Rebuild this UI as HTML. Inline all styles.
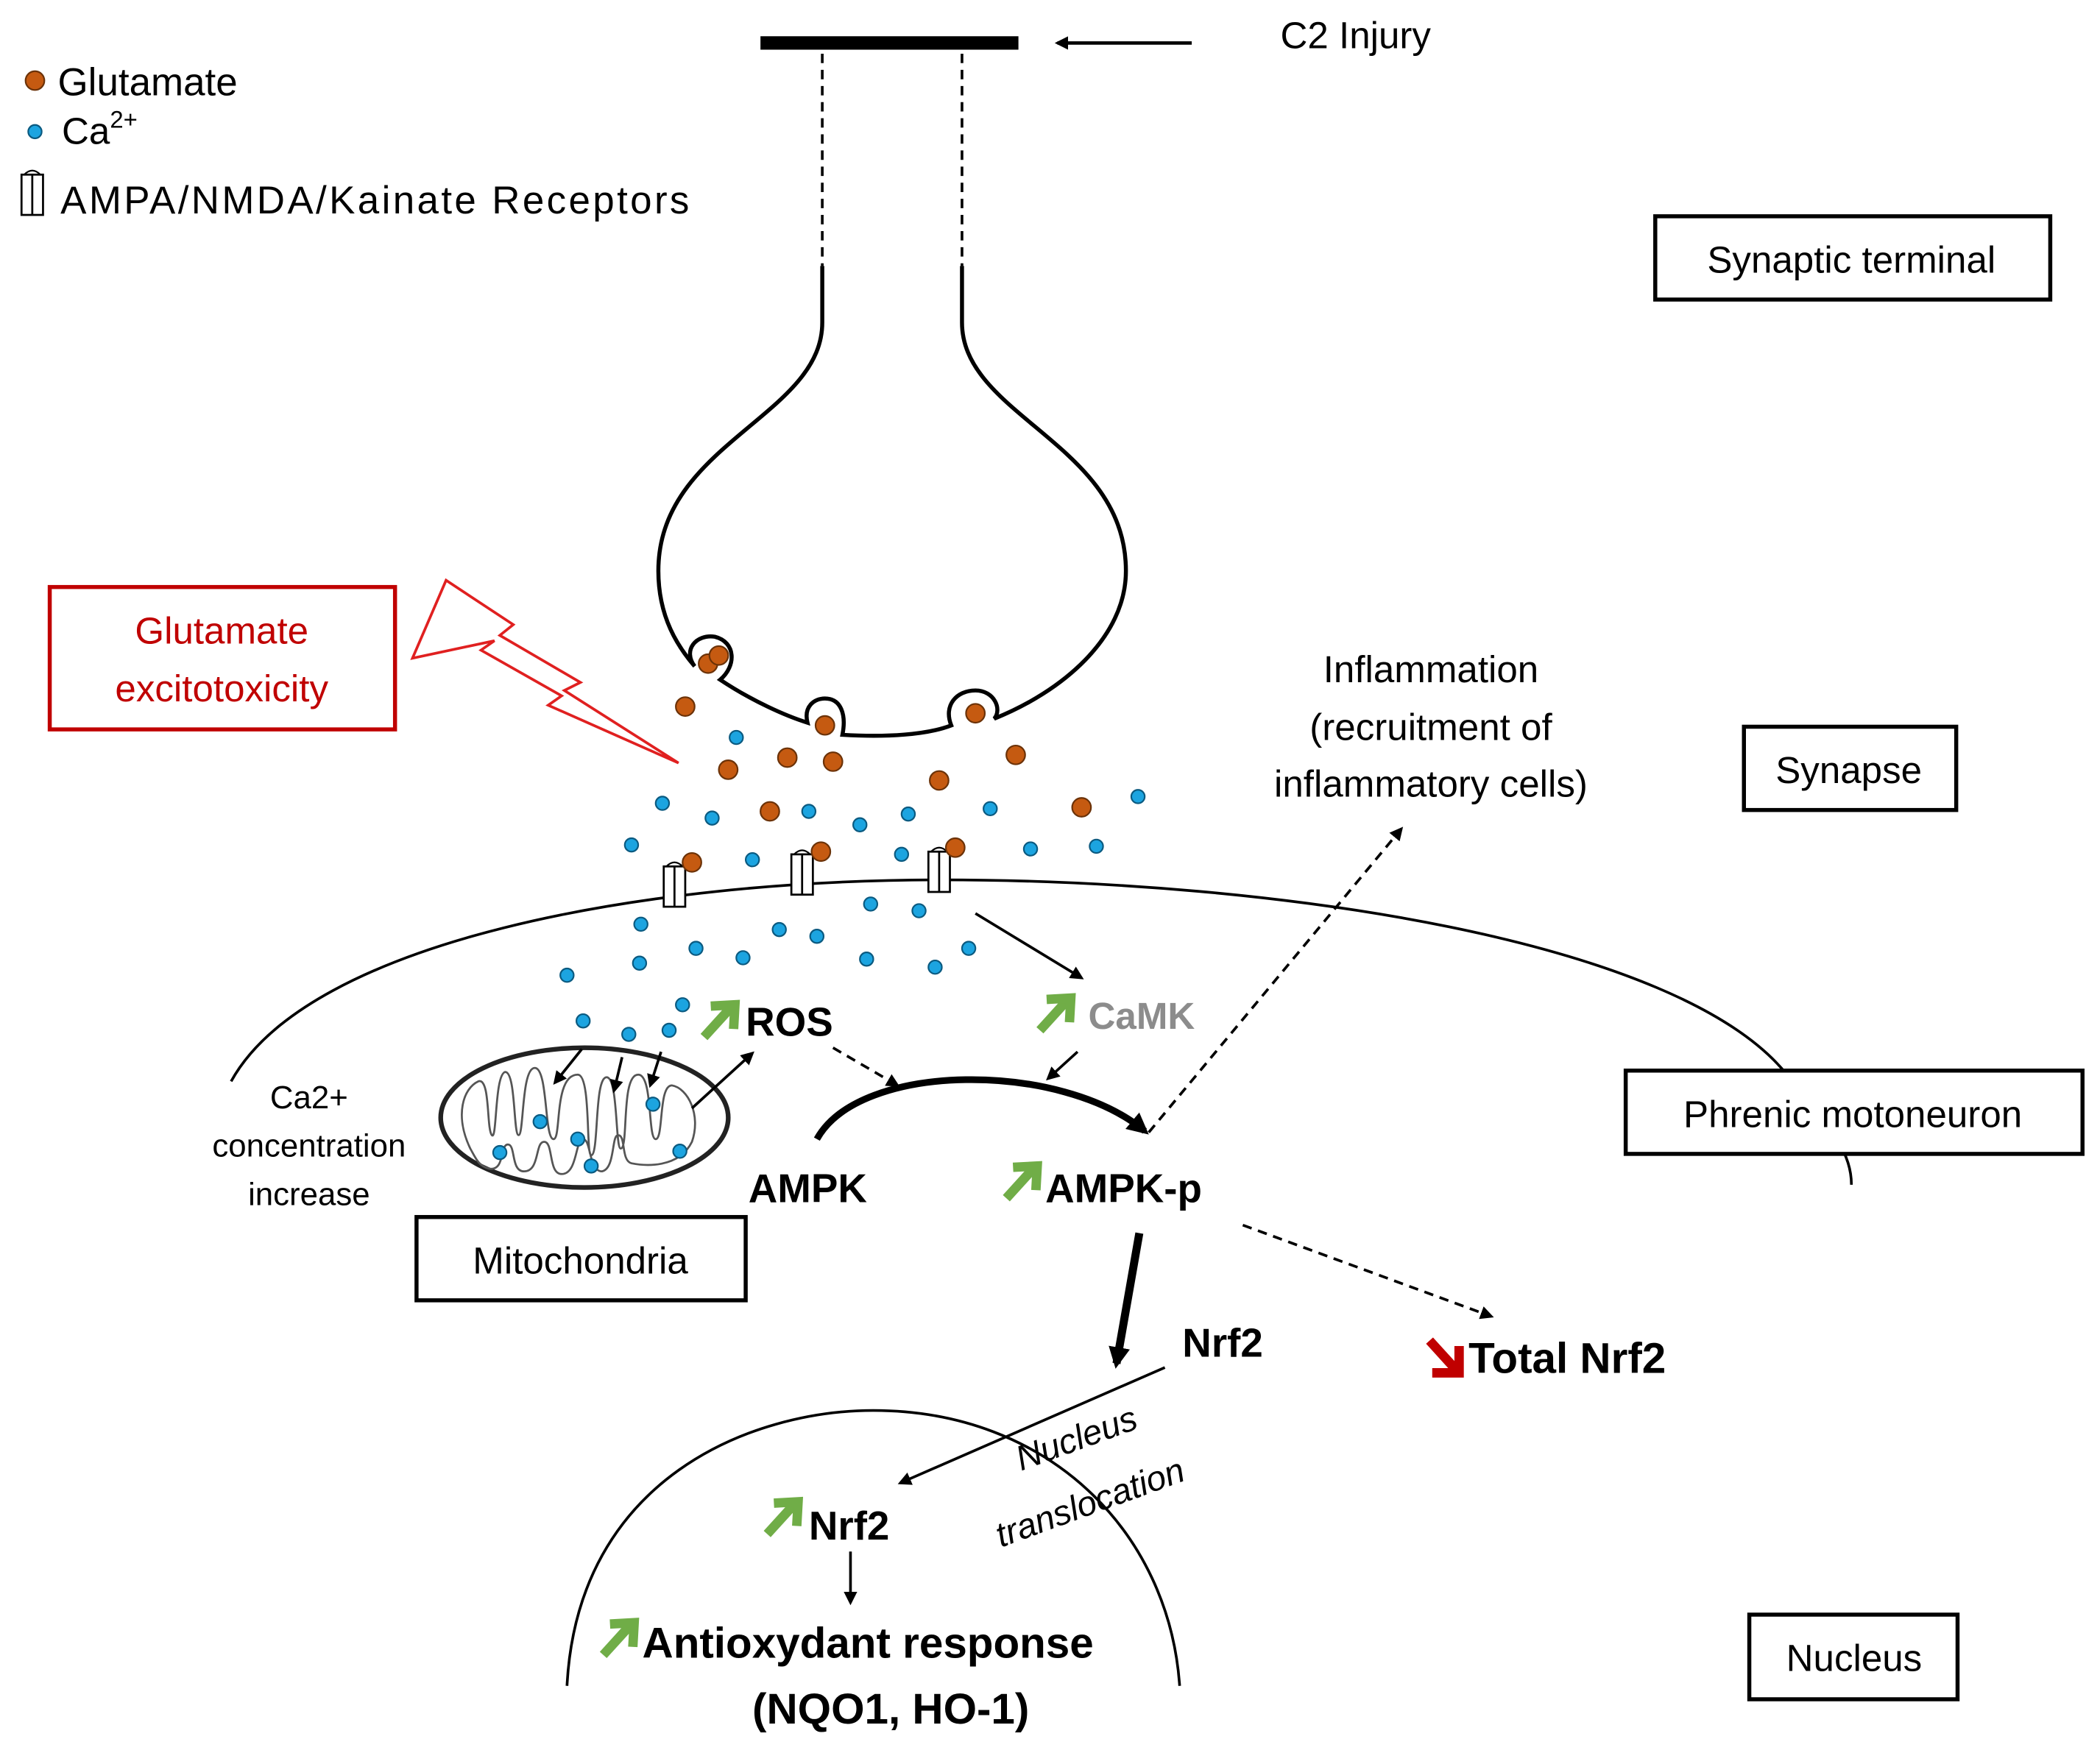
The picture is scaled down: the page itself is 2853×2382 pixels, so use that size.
<!DOCTYPE html>
<html><head><meta charset="utf-8"><style>html,body{margin:0;padding:0;background:#fff}svg{display:block}text{font-family:"Liberation Sans",sans-serif}</style></head><body>
<svg width="2853" height="2382" viewBox="0 0 1563 1305" xmlns="http://www.w3.org/2000/svg">
<defs>
<marker id="ah" markerWidth="10" markerHeight="10" refX="8" refY="5" orient="auto" markerUnits="userSpaceOnUse" viewBox="0 0 10 10"><path d="M0,0 L10,5 L0,10 z" fill="#000"/></marker>
<marker id="ahb" markerWidth="16" markerHeight="16" refX="12" refY="8" orient="auto" markerUnits="userSpaceOnUse" viewBox="0 0 16 16"><path d="M0,0 L16,8 L0,16 z" fill="#000"/></marker>
<g id="up"><path d="M0,26 L20,4" stroke="#70ad47" stroke-width="7" fill="none"/><path d="M5,3 L23,2 L22,20" stroke="#70ad47" stroke-width="7" fill="none"/></g>
<g id="rc"><rect x="-8" y="-15" width="16" height="30" fill="#fff" stroke="#000" stroke-width="1.5"/><line x1="0" y1="-15" x2="0" y2="15" stroke="#000" stroke-width="1.5"/><path d="M-6,-15 Q0,-21 6,-15" fill="none" stroke="#000" stroke-width="1.2"/></g>
</defs>
<rect width="1563" height="1305" fill="#fff"/>
<line x1="566" y1="32" x2="758" y2="32" stroke="#000" stroke-width="10"/>
<line x1="887" y1="32" x2="787" y2="32" stroke="#000" stroke-width="2.5" marker-end="url(#ah)"/>
<text x="953" y="36" font-size="28">C2 Injury</text>
<line x1="612" y1="40" x2="612" y2="198" stroke="#000" stroke-width="2" stroke-dasharray="7,5"/>
<line x1="716" y1="40" x2="716" y2="198" stroke="#000" stroke-width="2" stroke-dasharray="7,5"/>
<path d="M612,198 V240 C612,310 490,330 490,425 C490,460 505,482 517,496 C508,484 518,472 532,474 C548,478 548,496 536,506 C560,522 585,533 601,538 C598,526 606,520 614,520 C626,520 630,532 627,547 C660,549 690,547 708,540 C702,525 712,514 726,514 C740,514 746,528 740,535 C790,515 838,475 838,425 C838,330 716,310 716,240 V198" fill="none" stroke="#000" stroke-width="3"/>
<circle cx="26" cy="60" r="7" fill="#c55a11" stroke="#6b3208" stroke-width="1.2"/>
<text x="43" y="71" font-size="29">Glutamate</text>
<circle cx="26" cy="98" r="5" fill="#1ca4e0" stroke="#0b5a80" stroke-width="1.2"/>
<text x="46" y="107" font-size="28">Ca<tspan font-size="18" dy="-12">2+</tspan></text>
<use href="#rc" x="24" y="145"/>
<text x="45" y="159" font-size="29" textLength="468">AMPA/NMDA/Kainate Receptors</text>
<g fill="#fff" stroke="#000" stroke-width="3">
<rect x="1232" y="161" width="294" height="62"/>
<rect x="1298" y="541" width="158" height="62"/>
<rect x="310" y="906" width="245" height="62"/>
<rect x="1302" y="1202" width="155" height="63"/>
</g>
<g font-size="28" text-anchor="middle">
<text x="1378" y="203">Synaptic terminal</text>
<text x="1376" y="583">Synapse</text>
<text x="432" y="948">Mitochondria</text>
<text x="1380" y="1244">Nucleus</text>
</g>
<path d="M172,805 C230,700 480,655 700,655 C950,655 1250,700 1330,800 C1365,840 1378,860 1378,882" fill="none" stroke="#000" stroke-width="2"/>
<rect x="1210" y="797" width="340" height="62" fill="#fff" stroke="#000" stroke-width="3"/>
<text x="1379" y="839" font-size="28" text-anchor="middle">Phrenic motoneuron</text>
<rect x="37" y="437" width="257" height="106" fill="none" stroke="#c00000" stroke-width="3"/>
<text x="165" y="479" font-size="28" fill="#c00000" text-anchor="middle">Glutamate</text>
<text x="165" y="522" font-size="28" fill="#c00000" text-anchor="middle">excitotoxicity</text>
<polygon points="307,490 332,432 382,465 372,473 432,508 420,514 505,568 408,525 418,518 358,484 368,477" fill="none" stroke="#e02020" stroke-width="2"/>
<use href="#rc" x="502" y="660"/><use href="#rc" x="597" y="651"/><use href="#rc" x="699" y="649"/>
<g fill="#c55a11" stroke="#6b3208" stroke-width="1.2">
<circle cx="527" cy="494" r="7"/><circle cx="535" cy="488" r="7"/><circle cx="510" cy="526" r="7"/><circle cx="614" cy="540" r="7"/><circle cx="726" cy="531" r="7"/><circle cx="542" cy="573" r="7"/><circle cx="586" cy="564" r="7"/><circle cx="620" cy="567" r="7"/><circle cx="699" cy="581" r="7"/><circle cx="756" cy="562" r="7"/><circle cx="573" cy="604" r="7"/><circle cx="805" cy="601" r="7"/><circle cx="515" cy="642" r="7"/><circle cx="611" cy="634" r="7"/><circle cx="711" cy="631" r="7"/>
</g>
<ellipse cx="435" cy="832" rx="107" ry="52" fill="#fff" stroke="#222" stroke-width="3.5"/>
<path d="M350,855 C338,830 345,810 356,805 C365,802 362,840 366,845 C370,850 368,800 376,798 C384,798 382,845 386,845 C390,845 388,795 398,795 C408,795 405,848 412,848 C418,848 412,800 430,800 C440,800 436,860 440,860 C446,860 442,800 452,802 C460,804 458,855 462,855 C468,855 462,800 475,800 C486,800 482,848 488,848 C494,848 490,808 500,808 C512,810 522,830 515,850 C505,870 480,868 470,866 C462,864 466,845 460,845 C455,845 458,870 448,872 C438,872 440,848 434,848 C428,848 430,874 418,874 C408,874 412,850 405,850 C398,850 402,872 390,872 C380,872 384,852 378,852 C372,852 376,872 364,870 C356,868 354,862 350,855 Z" fill="none" stroke="#555" stroke-width="1.5"/>
<g fill="#1ca4e0" stroke="#0b5a80" stroke-width="1.2">
<circle cx="548" cy="549" r="5"/><circle cx="493" cy="598" r="5"/><circle cx="530" cy="609" r="5"/><circle cx="602" cy="604" r="5"/><circle cx="640" cy="614" r="5"/><circle cx="676" cy="606" r="5"/><circle cx="737" cy="602" r="5"/><circle cx="847" cy="593" r="5"/><circle cx="470" cy="629" r="5"/><circle cx="560" cy="640" r="5"/><circle cx="671" cy="636" r="5"/><circle cx="767" cy="632" r="5"/><circle cx="816" cy="630" r="5"/><circle cx="477" cy="688" r="5"/><circle cx="580" cy="692" r="5"/><circle cx="608" cy="697" r="5"/><circle cx="648" cy="673" r="5"/><circle cx="684" cy="678" r="5"/><circle cx="422" cy="726" r="5"/><circle cx="476" cy="717" r="5"/><circle cx="518" cy="706" r="5"/><circle cx="553" cy="713" r="5"/><circle cx="645" cy="714" r="5"/><circle cx="696" cy="720" r="5"/><circle cx="721" cy="706" r="5"/><circle cx="434" cy="760" r="5"/><circle cx="468" cy="770" r="5"/><circle cx="498" cy="767" r="5"/><circle cx="508" cy="748" r="5"/>
<circle cx="372" cy="858" r="5"/><circle cx="402" cy="835" r="5"/><circle cx="430" cy="848" r="5"/><circle cx="440" cy="868" r="5"/><circle cx="486" cy="822" r="5"/><circle cx="506" cy="857" r="5"/>
</g>
<g stroke="#000" stroke-width="2" marker-end="url(#ah)">
<line x1="433" y1="781" x2="413" y2="806"/><line x1="463" y1="787" x2="457" y2="812"/><line x1="492" y1="783" x2="484" y2="808"/><line x1="515" y1="825" x2="560" y2="784"/>
<line x1="726" y1="680" x2="805" y2="728"/><line x1="802" y1="783" x2="780" y2="803"/>
<line x1="867" y1="1018" x2="670" y2="1104"/><line x1="633" y1="1155" x2="633" y2="1193"/>
</g>
<g font-size="24" text-anchor="middle"><text x="230" y="825">Ca2+</text><text x="230" y="861">concentration</text><text x="230" y="897">increase</text></g>
<text x="1065" y="508" font-size="28" text-anchor="middle">Inflammation</text>
<text x="1065" y="551" font-size="28" text-anchor="middle">(recruitment of</text>
<text x="1065" y="593" font-size="28" text-anchor="middle">inflammatory cells)</text>
<g stroke="#000" stroke-width="2" stroke-dasharray="7,5" marker-end="url(#ah)" fill="none">
<line x1="855" y1="843" x2="1043" y2="617"/>
<line x1="620" y1="780" x2="668" y2="808"/>
<line x1="925" y1="912" x2="1110" y2="980"/>
</g>
<path d="M608,848 C640,790 790,790 852,842" fill="none" stroke="#000" stroke-width="5" marker-end="url(#ahb)"/>
<line x1="848" y1="918" x2="831" y2="1015" stroke="#000" stroke-width="6" marker-end="url(#ahb)"/>
<use href="#up" x="524" y="746"/>
<text x="555" y="771" font-size="30" font-weight="bold">ROS</text>
<use href="#up" x="774" y="741"/>
<text x="810" y="766" font-size="28" font-weight="bold" fill="#8c8c8c">CaMK</text>
<text x="557" y="895" font-size="30" font-weight="bold">AMPK</text>
<use href="#up" x="749" y="866"/>
<text x="778" y="895" font-size="30" font-weight="bold">AMPK-p</text>
<text x="880" y="1010" font-size="30" font-weight="bold">Nrf2</text>
<g transform="translate(1064,998)"><path d="M0,0 L20,22" stroke="#c00000" stroke-width="7"/><path d="M2,24 L22,24 L22,4" stroke="#c00000" stroke-width="7" fill="none"/></g>
<text x="1093" y="1022" font-size="32" font-weight="bold">Total Nrf2</text>
<text x="760" y="1095" font-size="26" font-style="italic" transform="rotate(-20 760 1095)">Nucleus</text>
<text x="745" y="1152" font-size="26" font-style="italic" transform="rotate(-20 745 1152)">translocation</text>
<path d="M422,1255 C430,1100 560,1050 650,1050 C780,1050 870,1140 878,1255" fill="none" stroke="#000" stroke-width="2"/>
<use href="#up" x="571" y="1116"/>
<text x="602" y="1146" font-size="30" font-weight="bold">Nrf2</text>
<use href="#up" x="449" y="1206"/>
<text x="478" y="1234" font-size="32" font-weight="bold">Antioxydant response</text>
<text x="663" y="1283" font-size="32" font-weight="bold" text-anchor="middle">(NQO1, HO-1)</text>
</svg>
</body></html>
